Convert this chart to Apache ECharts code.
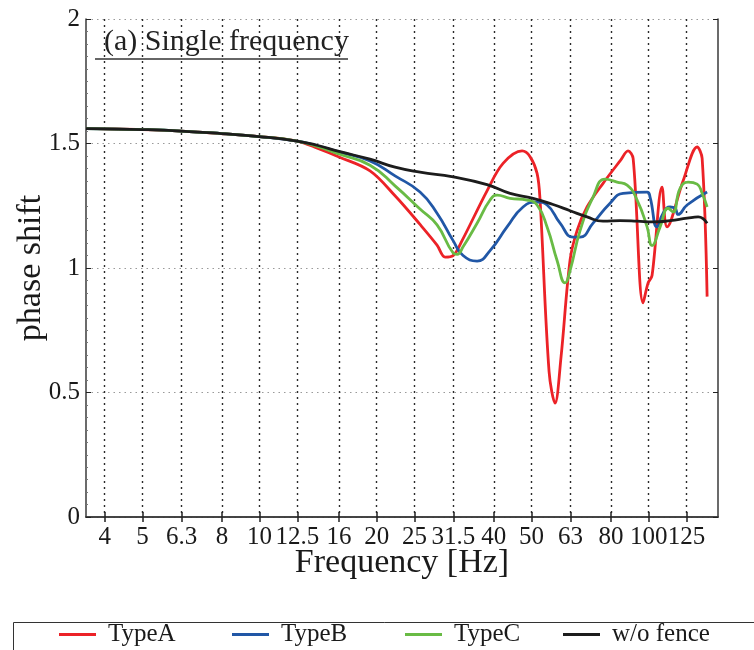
<!DOCTYPE html>
<html><head><meta charset="utf-8">
<script src="https://cdn.jsdelivr.net/npm/echarts@6/dist/echarts.min.js"></script>
<style>html,body{margin:0;padding:0;background:#fff}#c{width:754px;height:650px}</style>
</head><body><div id="c"></div>
<script>
// ---- data (frequency in Hz, phase shift) ----
const xTickLabels = ['4','5','6.3','8','10','12.5','16','20','25','31.5','40','50','63','80','100','125'];
const seriesNames = ['TypeA','TypeB','TypeC','w/o fence'];

const freqA = [3.58,3.98,4.99,6.28,7.96,9.97,12.48,14.13,16.0,19.22,22.29,25.84,28.58,29.97,31.43,33.14,38.42,42.24,47.27,49.56,51.66,52.59,55.46,57.46,59.54,62.8,65.45,69.43,76.33,84.42,88.5,91.2,96.74,99.65,102.0,108.2,111.5,122.6,133.2,137.2,141.3];
const typeA = [1.56,1.559,1.556,1.55,1.54,1.528,1.51,1.48,1.446,1.39,1.29,1.175,1.092,1.044,1.05,1.11,1.31,1.42,1.47,1.447,1.38,1.27,0.584,0.457,0.644,1.032,1.15,1.245,1.34,1.43,1.47,1.44,0.86,0.94,0.97,1.325,1.165,1.35,1.486,1.44,0.885];

const freqB = [3.58,3.98,4.99,6.28,7.96,9.97,12.48,14.13,16.0,19.22,22.29,25.84,28.58,31.43,33.34,36.22,39.11,43.25,47.54,51.66,54.81,59.19,63.93,66.63,71.95,79.57,85.93,99.06,100.8,105.1,108.9,113.5,116.9,119.0,125.5,141.3];
const typeB = [1.56,1.559,1.556,1.55,1.54,1.528,1.51,1.49,1.466,1.43,1.37,1.305,1.22,1.11,1.05,1.028,1.07,1.165,1.245,1.265,1.253,1.18,1.124,1.124,1.18,1.26,1.30,1.305,1.285,1.165,1.22,1.245,1.24,1.215,1.253,1.305];

const freqC = [3.58,3.98,4.99,6.28,7.96,9.97,12.48,14.13,16.0,19.22,22.29,25.84,28.58,31.43,32.18,33.34,36.22,39.11,40.77,44.03,48.68,51.66,54.81,58.15,60.96,62.8,66.63,71.95,77.24,82.93,88.0,93.38,99.06,102.0,107.0,112.2,115.5,120.4,126.3,133.2,137.2,141.3];
const typeC = [1.56,1.559,1.556,1.55,1.54,1.528,1.51,1.487,1.458,1.413,1.33,1.237,1.173,1.061,1.055,1.085,1.18,1.273,1.293,1.28,1.273,1.253,1.165,1.03,0.94,0.99,1.15,1.285,1.357,1.345,1.333,1.273,1.165,1.09,1.165,1.24,1.225,1.32,1.345,1.337,1.30,1.245];

const freqN = [3.58,3.98,4.99,6.28,7.96,9.97,12.48,14.13,16.0,19.22,22.29,25.84,31.43,38.42,44.03,50.45,56.79,62.8,69.43,76.33,84.42,93.38,102.6,113.5,125.5,134.0,141.3];
const noFence = [1.56,1.559,1.556,1.55,1.54,1.528,1.51,1.492,1.468,1.437,1.405,1.385,1.366,1.335,1.30,1.28,1.255,1.23,1.205,1.188,1.19,1.188,1.185,1.19,1.2,1.205,1.18];

// ---- build ----
const FONT = '"Liberation Serif","Times New Roman",serif';
const lg = Math.log10;
const xMin = lg(3.58), xMax = lg(150.7);
const tickPos = xTickLabels.map(s => lg(parseFloat(s)));
function pairs(f, v) { return f.map((x, i) => [lg(x), v[i]]); }
function tickLabel(val) {
  let best = 0, d = Infinity;
  tickPos.forEach((p, i) => { const dd = Math.abs(p - val); if (dd < d) { d = dd; best = i; } });
  return xTickLabels[best];
}
const colors = ['#ec2227', '#2157a6', '#69bb45', '#1c1c1c'];
const AXC = '#3a3a3a';

const chart = echarts.init(document.getElementById('c'), null, {renderer: 'canvas'});
const legendLefts = [59, 232, 405, 563];
chart.setOption({
  animation: false,
  backgroundColor: '#fff',
  color: colors,
  grid: {left: 86, right: 36, top: 19, bottom: 133},
  xAxis: [{
    type: 'value', min: xMin, max: xMax, position: 'bottom',
    name: 'Frequency [Hz]', nameLocation: 'middle', nameGap: 29, nameMoveOverlap: false,
    nameTextStyle: {fontFamily: FONT, fontSize: 34, color: '#1a1a1a'},
    axisLine: {show: true, lineStyle: {color: AXC, width: 1.5}},
    axisTick: {show: true, inside: true, length: 5, customValues: tickPos, lineStyle: {color: '#222', width: 1.5}},
    axisLabel: {customValues: tickPos, formatter: tickLabel, margin: 8, fontFamily: FONT, fontSize: 25, color: '#1a1a1a'},
    splitLine: {show: true, lineStyle: {color: '#2a2a2a', width: 1.4, type: [2, 4]}}
  }, {
    type: 'value', min: xMin, max: xMax, position: 'top',
    axisLine: {show: true, lineStyle: {color: AXC, width: 1.5}},
    axisTick: {show: true, inside: true, length: 5, customValues: tickPos, lineStyle: {color: '#222', width: 1.5}},
    axisLabel: {show: false, customValues: tickPos},
    splitLine: {show: false}
  }],
  yAxis: [{
    type: 'value', min: 0, max: 2, interval: 0.5, position: 'left',
    name: 'phase shift', nameLocation: 'middle', nameGap: 38, nameMoveOverlap: false,
    nameTextStyle: {fontFamily: FONT, fontSize: 34, color: '#1a1a1a'},
    axisLine: {show: true, lineStyle: {color: AXC, width: 1.5}},
    axisTick: {show: true, inside: true, length: 5, lineStyle: {color: '#222'}},
    minorTick: {show: true, splitNumber: 10, length: 2, lineStyle: {color: '#777'}},
    axisLabel: {margin: 6, fontFamily: FONT, fontSize: 25, color: '#1a1a1a'},
    splitLine: {show: true, lineStyle: {color: '#9a9a9a', width: 1.2, type: [1.5, 4]}}
  }, {
    type: 'value', min: 0, max: 2, interval: 0.5, position: 'right',
    axisLine: {show: true, lineStyle: {color: AXC, width: 1.5}},
    axisTick: {show: true, inside: true, length: 5, lineStyle: {color: '#222'}},
    axisLabel: {show: false},
    splitLine: {show: false}
  }],
  legend: seriesNames.map((n, i) => ({
    data: [n], left: legendLefts[i], top: 622, padding: 0, itemGap: 0,
    icon: 'rect', itemWidth: 37, itemHeight: 3,
    textStyle: {fontFamily: FONT, fontSize: 25, color: '#1a1a1a', padding: [0, 0, 0, 7]}
  })),
  graphic: [
    {type: 'text', left: 104, top: 27, z: 10,
     style: {text: '(a) Single frequency', font: '30px "Liberation Serif", serif', fill: '#222'}},
    {type: 'line', z: 10, shape: {x1: 95, y1: 59, x2: 348, y2: 59}, style: {stroke: '#333', lineWidth: 1.5}},
    {type: 'rect', z: 10, shape: {x: 13.5, y: 622.5, width: 800, height: 100}, style: {fill: 'none', stroke: '#333', lineWidth: 1}}
  ],
  series: [
    {name: seriesNames[0], type: 'line', data: pairs(freqA, typeA), smooth: 0.35},
    {name: seriesNames[1], type: 'line', data: pairs(freqB, typeB), smooth: 0.5},
    {name: seriesNames[2], type: 'line', data: pairs(freqC, typeC), smooth: 0.5},
    {name: seriesNames[3], type: 'line', data: pairs(freqN, noFence), smooth: 0.5}
  ].map(s => Object.assign(s, {showSymbol: false, symbol: 'none', lineStyle: {width: 2.8}}))
});
</script></body></html>
